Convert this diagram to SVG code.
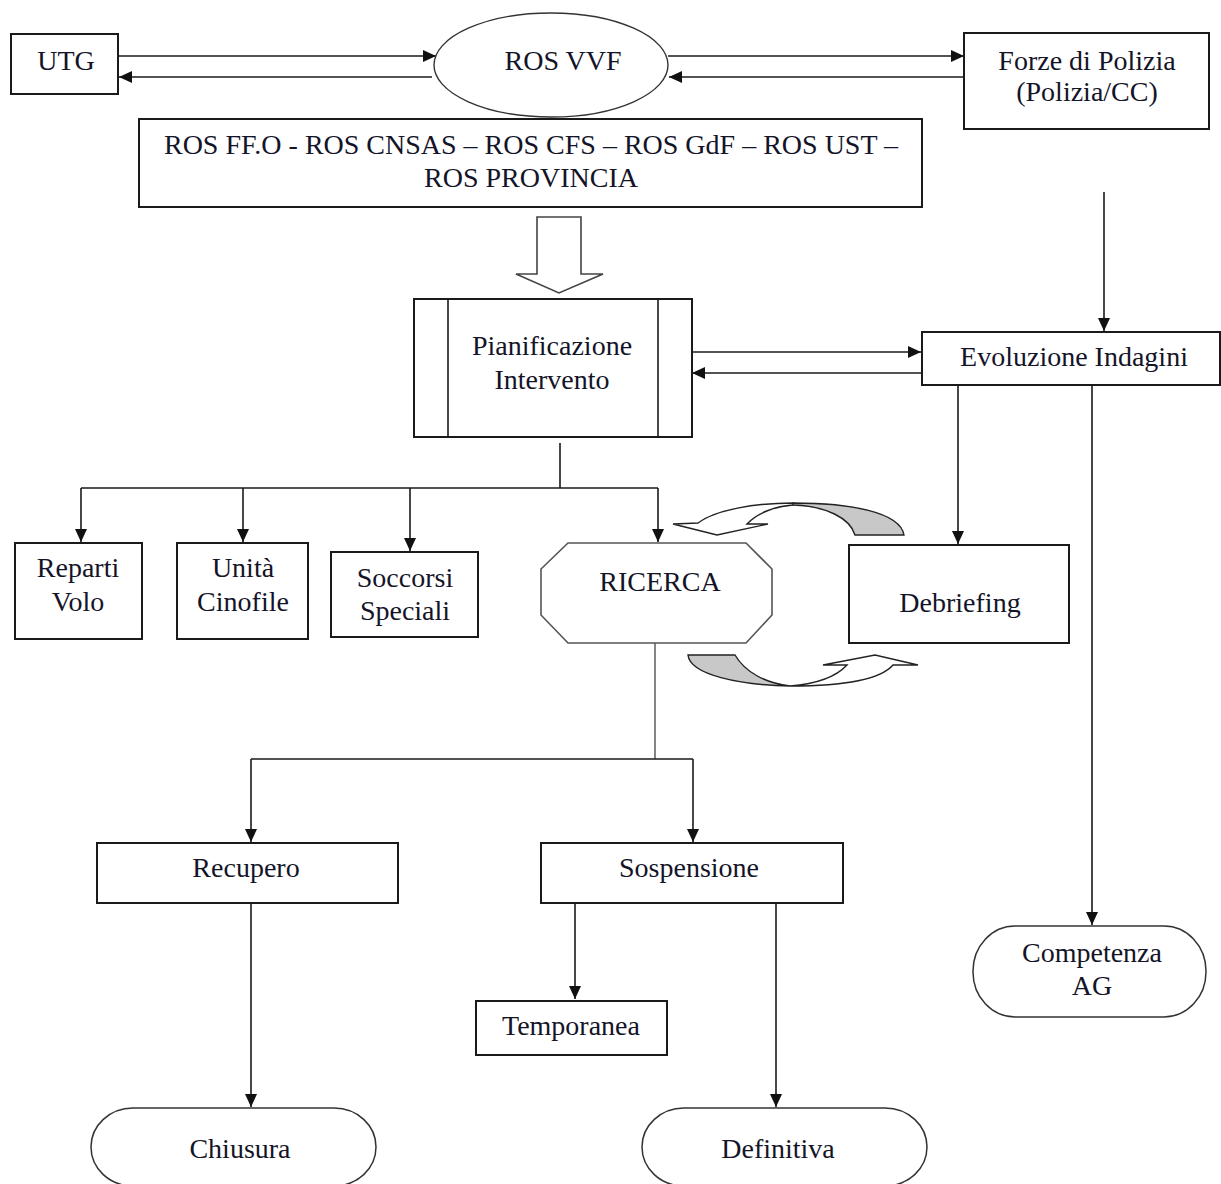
<svg xmlns="http://www.w3.org/2000/svg" width="1221" height="1184" viewBox="0 0 1221 1184">
<style>
.box{fill:#fff;stroke:#1a1a1a;stroke-width:2}
.ln{fill:none;stroke:#1a1a1a;stroke-width:1.6}
.gl{fill:none;stroke:#666;stroke-width:1.6}
.t{font-family:"Liberation Serif","Times New Roman",serif;font-size:28px;fill:#141428;text-anchor:middle}
</style>
<defs>
<marker id="ah" markerUnits="userSpaceOnUse" markerWidth="14" markerHeight="12" refX="13" refY="6" orient="auto">
<path d="M0,0 L13,6 L0,12 z" fill="#111"/>
</marker>
</defs>
<rect width="1221" height="1184" fill="#fff"/>

<g id="connectors">
<path class="ln" d="M118,56 H436" marker-end="url(#ah)"/>
<path class="ln" d="M432,77 H119" marker-end="url(#ah)"/>
<path class="ln" d="M668,56 H964" marker-end="url(#ah)"/>
<path class="ln" d="M964,77 H669" marker-end="url(#ah)"/>
<path class="ln" d="M1104,192 V331" marker-end="url(#ah)"/>
<path class="ln" d="M690,352 H921" marker-end="url(#ah)"/>
<path class="ln" d="M922,373 H692" marker-end="url(#ah)"/>
<path class="ln" d="M560,443 V488 M81,488 H658"/>
<path class="ln" d="M81,488 V542" marker-end="url(#ah)"/>
<path class="ln" d="M243,488 V542" marker-end="url(#ah)"/>
<path class="ln" d="M410,488 V551" marker-end="url(#ah)"/>
<path class="ln" d="M658,488 V542" marker-end="url(#ah)"/>
<path class="ln" d="M958,385 V544" marker-end="url(#ah)"/>
<path class="ln" d="M1092,385 V925" marker-end="url(#ah)"/>
<path class="gl" d="M655,643 V759"/>
<path class="ln" d="M251,759 H693"/>
<path class="ln" d="M251,759 V842" marker-end="url(#ah)"/>
<path class="ln" d="M693,759 V842" marker-end="url(#ah)"/>
<path class="ln" d="M251,903 V1107" marker-end="url(#ah)"/>
<path class="ln" d="M575,903 V999" marker-end="url(#ah)"/>
<path class="ln" d="M776,903 V1107" marker-end="url(#ah)"/>
<polygon points="537,217 581,217 581,274 603,274 559,293 516,274 537,274" fill="#fff" stroke="#444" stroke-width="1.6"/>
<g id="cycle-top" stroke="#222" stroke-width="1.4">
<path d="M793,503 C850,503 900,512 904,535 L855,535 C850,518 826,506 793,505 Z" fill="#c8c8c8"/>
<path d="M793,503 C755,503 715,510 698,523 L673,524 L717,535 L768,524 L747,524 C757,513 776,506 793,505 Z" fill="#fff"/>
</g>
<g id="cycle-bottom" stroke="#222" stroke-width="1.4">
<path d="M688,655 L735,655 C745,672 765,683 790,686 C740,685 690,675 688,655 Z" fill="#c8c8c8"/>
<path d="M790,686 C840,686 880,680 893,665 L918,665 L875,655 L823,665 L847,665 C835,678 815,684 790,686 Z" fill="#fff"/>
</g>
</g>

<g id="utg">
<rect class="box" x="11" y="34" width="107" height="60"/>
<text class="t" x="66" y="70">UTG</text>
</g>
<g id="ros-vvf">
<ellipse cx="551" cy="65" rx="117" ry="52" fill="#fff" stroke="#333" stroke-width="1.4"/>
<text class="t" x="563" y="70">ROS VVF</text>
</g>
<g id="forze-polizia">
<rect class="box" x="964" y="33" width="245" height="96"/>
<text class="t" x="1087" y="70">Forze di Polizia</text>
<text class="t" x="1087" y="101">(Polizia/CC)</text>
</g>
<g id="ros-list">
<rect class="box" x="139" y="119" width="783" height="88"/>
<text class="t" x="531" y="154">ROS FF.O - ROS CNSAS – ROS CFS – ROS GdF – ROS UST –</text>
<text class="t" x="531" y="187">ROS PROVINCIA</text>
</g>
<g id="pianificazione">
<rect class="box" x="414" y="299" width="278" height="138"/>
<path class="ln" d="M448,299 V437 M658,299 V437" stroke-width="2"/>
<text class="t" x="552" y="355">Pianificazione</text>
<text class="t" x="552" y="389">Intervento</text>
</g>
<g id="evoluzione">
<rect class="box" x="922" y="332" width="298" height="53"/>
<text class="t" x="1074" y="366">Evoluzione Indagini</text>
</g>
<g id="reparti-volo">
<rect class="box" x="15" y="543" width="127" height="96"/>
<text class="t" x="78" y="577">Reparti</text>
<text class="t" x="78" y="611">Volo</text>
</g>
<g id="unita-cinofile">
<rect class="box" x="177" y="543" width="131" height="96"/>
<text class="t" x="243" y="577">Unità</text>
<text class="t" x="243" y="611">Cinofile</text>
</g>
<g id="soccorsi-speciali">
<rect class="box" x="331" y="552" width="147" height="85"/>
<text class="t" x="405" y="587">Soccorsi</text>
<text class="t" x="405" y="620">Speciali</text>
</g>
<g id="ricerca">
<polygon points="568,543 746,543 772,569 772,615 746,643 568,643 541,615 541,569" fill="#fff" stroke="#555" stroke-width="1.6"/>
<text class="t" x="660" y="591">RICERCA</text>
</g>
<g id="debriefing">
<rect class="box" x="849" y="545" width="220" height="98"/>
<text class="t" x="960" y="612">Debriefing</text>
</g>
<g id="recupero">
<rect class="box" x="97" y="843" width="301" height="60"/>
<text class="t" x="246" y="877">Recupero</text>
</g>
<g id="sospensione">
<rect class="box" x="541" y="843" width="302" height="60"/>
<text class="t" x="689" y="877">Sospensione</text>
</g>
<g id="temporanea">
<rect class="box" x="476" y="1001" width="191" height="54"/>
<text class="t" x="571" y="1035">Temporanea</text>
</g>
<g id="competenza-ag">
<rect x="973" y="926" width="233" height="91" rx="42" ry="45" fill="#fff" stroke="#333" stroke-width="1.5"/>
<text class="t" x="1092" y="962">Competenza</text>
<text class="t" x="1092" y="995">AG</text>
</g>
<g id="chiusura">
<rect x="91" y="1108" width="285" height="78" rx="42" ry="39" fill="#fff" stroke="#333" stroke-width="1.5"/>
<text class="t" x="240" y="1158">Chiusura</text>
</g>
<g id="definitiva">
<rect x="642" y="1108" width="285" height="78" rx="42" ry="39" fill="#fff" stroke="#333" stroke-width="1.5"/>
<text class="t" x="778" y="1158">Definitiva</text>
</g>
</svg>
